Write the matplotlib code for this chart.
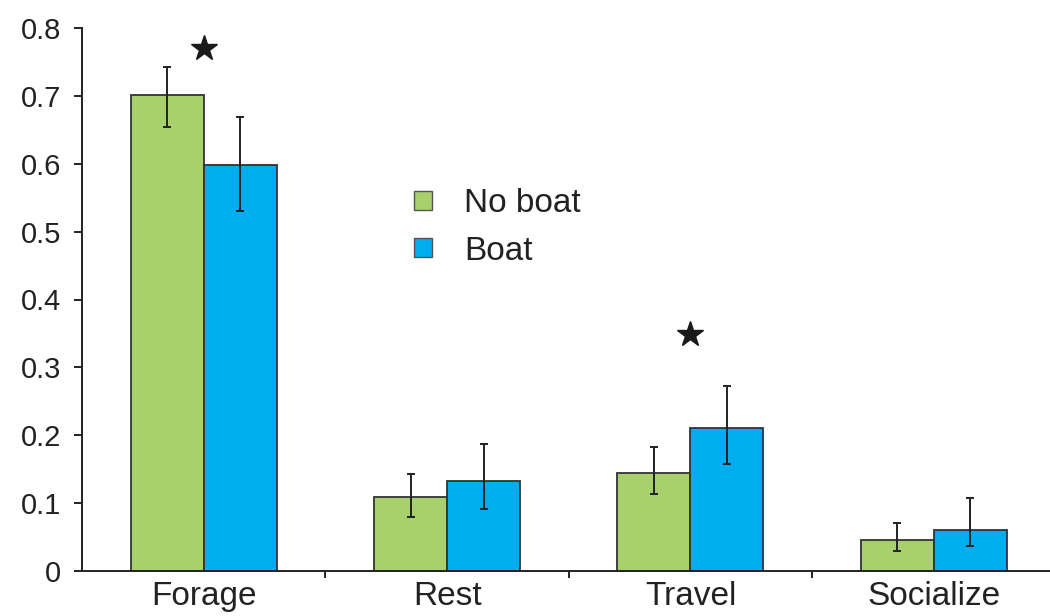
import matplotlib
matplotlib.use("Agg")
import matplotlib.pyplot as plt
from matplotlib.patches import Rectangle
import numpy as np

categories = ["Forage", "Rest", "Travel", "Socialize"]
series = ["No boat", "Boat"]

no_boat_mean = [0.702, 0.109, 0.145, 0.045]
no_boat_low = [0.654, 0.080, 0.114, 0.029]
no_boat_high = [0.742, 0.143, 0.182, 0.071]

boat_mean = [0.598, 0.133, 0.210, 0.061]
boat_low = [0.530, 0.091, 0.157, 0.037]
boat_high = [0.669, 0.187, 0.272, 0.108]

# significant differences marked with a star
star_cats = ["Forage", "Travel"]
star_y = [0.771, 0.349]

green = "#a8d06c"
blue = "#00aeef"
ink = "#222222"

plt.rcParams["font.family"] = ["Liberation Sans", "DejaVu Sans"]

fig = plt.figure(figsize=(10.5, 6.16), dpi=100)
ax = fig.add_axes([82 / 1050, 45 / 616, (1055.5 - 82) / 1050, (571 - 28) / 616])

x = np.arange(len(categories))
w = 0.30
err_kw = dict(ecolor=ink, elinewidth=1.4, capsize=3, capthick=1.4)

nb = np.array(no_boat_mean)
b = np.array(boat_mean)
ax.bar(x - w / 2, nb, w, color=green, edgecolor="#333333", linewidth=1.3,
       yerr=[nb - np.array(no_boat_low), np.array(no_boat_high) - nb], error_kw=err_kw)
ax.bar(x + w / 2, b, w, color=blue, edgecolor="#333333", linewidth=1.3,
       yerr=[b - np.array(boat_low), np.array(boat_high) - b], error_kw=err_kw)

star_x = [categories.index(c) for c in star_cats]
ax.plot(star_x, star_y, linestyle="none", marker="*", markersize=19, color="#1a1a1a")

ax.set_xlim(-0.5, 3.5)
ax.set_ylim(0, 0.8)
ax.set_yticks(np.arange(0, 0.81, 0.1))
ax.set_yticklabels(["0"] + [f"{v:.1f}" for v in np.arange(0.1, 0.81, 0.1)])
ax.set_xticks(x)
ax.set_xticklabels(categories)
ax.set_xticks(np.arange(0.5, 3.5, 1), minor=True)

for side in ["top", "right"]:
    ax.spines[side].set_visible(False)
for side in ["left", "bottom"]:
    ax.spines[side].set_linewidth(1.4)
    ax.spines[side].set_color(ink)

ax.tick_params(axis="y", direction="out", length=6, width=1.4, color=ink,
               labelsize=21, labelcolor=ink, pad=9)
ax.tick_params(axis="x", which="major", length=0, labelsize=24, labelcolor=ink, pad=7)
ax.tick_params(axis="x", which="minor", direction="out", length=5, width=1.4, color=ink)

handles = [Rectangle((0, 0), 1, 1, facecolor=green, edgecolor="#555555", linewidth=1),
           Rectangle((0, 0), 1, 1, facecolor=blue, edgecolor="#555555", linewidth=1)]
leg = fig.legend(handles, series, loc="upper left", bbox_to_anchor=(384 / 1050, 1 - 158 / 616),
                 frameon=False, fontsize=24, handlelength=0.54, handleheight=0.5,
                 handletextpad=0.96, labelspacing=0.5)
for t in leg.get_texts():
    t.set_color(ink)

fig.savefig("out.png", dpi=100)
